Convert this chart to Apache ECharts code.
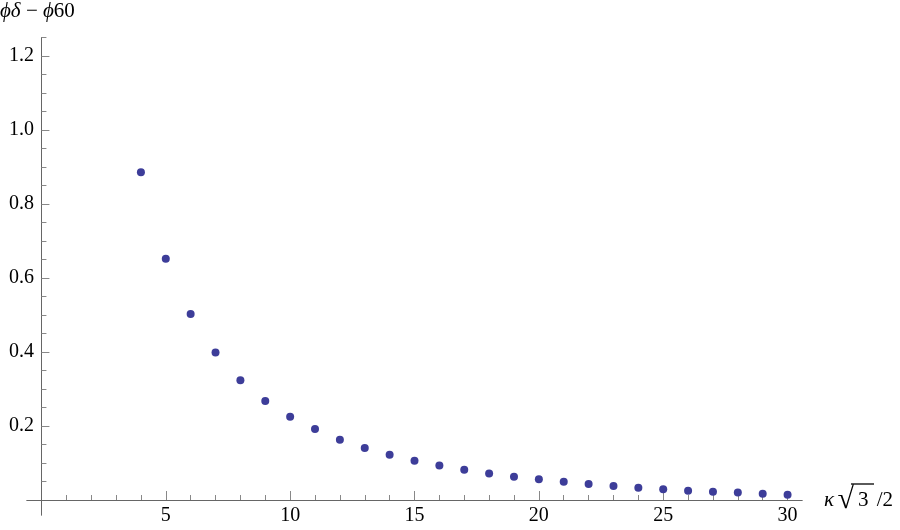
<!DOCTYPE html>
<html>
<head>
<meta charset="utf-8">
<script src="https://cdn.jsdelivr.net/npm/echarts@6/dist/echarts.min.js"></script>
<style>
  html, body { margin: 0; padding: 0; background: #fff; }
  #main { width: 900px; height: 530px; }
</style>
</head>
<body>
<div id="main"></div>
<script>
// kappa * sqrt(3) / 2
const kappa = [4, 5, 6, 7, 8, 9, 10, 11, 12, 13, 14, 15, 16, 17, 18, 19, 20, 21, 22, 23, 24, 25, 26, 27, 28, 29, 30]
// phi_delta - phi_60
const diff = [0.886, 0.652, 0.503, 0.399, 0.324, 0.268, 0.225, 0.192, 0.163, 0.1405, 0.1225, 0.106, 0.093, 0.082, 0.072, 0.063, 0.056, 0.0495, 0.043, 0.038, 0.033, 0.029, 0.025, 0.0225, 0.020, 0.017, 0.0144]
const xMajor = [5, 10, 15, 20, 25, 30]
const xMinor = [1, 2, 3, 4, 6, 7, 8, 9, 11, 12, 13, 14, 16, 17, 18, 19, 21, 22, 23, 24, 26, 27, 28, 29]
const yMajor = [0.2, 0.4, 0.6, 0.8, 1.0, 1.2]
const yMinor = [0.05, 0.1, 0.15, 0.25, 0.3, 0.35, 0.45, 0.5, 0.55, 0.65, 0.7, 0.75, 0.85, 0.9, 0.95, 1.05, 1.1, 1.15, 1.25]

const chart = echarts.init(document.getElementById('main'))
const serif = 'Liberation Serif'
const axisCol = '#666'
const tickCol = '#888'

const xBase = {
  type: 'value',
  min: -0.58,
  max: 30.58,
  position: 'bottom',
  splitLine: { show: false },
  axisLine: { show: true, onZero: true, lineStyle: { color: axisCol, width: 1 } },
}
const yBase = {
  type: 'value',
  min: -0.0405,
  max: 1.25,
  position: 'left',
  splitLine: { show: false },
  axisLine: { show: true, onZero: true, lineStyle: { color: axisCol, width: 1 } },
}

const option = {
  animation: false,
  grid: { left: 27, right: 98, top: 37.7, bottom: 15, containLabel: false, outerBoundsMode: 'none' },
  xAxis: [
    Object.assign({}, xBase, {
      name: '{k|κ} {r|√}{t|3} {n|/2}',
      nameLocation: 'end',
      nameGap: 22,
      nameTextStyle: {
        rich: {
          k: { fontFamily: serif, fontStyle: 'italic', fontSize: 21, color: '#000' },
          r: { fontFamily: serif, fontSize: 30, color: '#000' },
          t: { fontFamily: serif, fontSize: 21, color: '#000', padding: [0, 5, 0, 4] },
          n: { fontFamily: serif, fontSize: 21, color: '#000' },
        },
      },
      axisTick: { show: true, inside: true, length: 9, customValues: xMajor, lineStyle: { color: tickCol } },
      // labels are placed from the grid edge, so pull them back up to the zero line
      axisLabel: { show: true, customValues: xMajor, margin: -9, fontFamily: serif, fontSize: 20, color: '#000' },
    }),
    Object.assign({}, xBase, {
      axisTick: { show: true, inside: true, length: 5, customValues: xMinor, lineStyle: { color: tickCol } },
      axisLabel: { show: false },
    }),
  ],
  yAxis: [
    Object.assign({}, yBase, {
      axisTick: { show: true, inside: true, length: 8, customValues: yMajor, lineStyle: { color: tickCol } },
      axisLabel: {
        show: true, customValues: yMajor, margin: -7, fontFamily: serif, fontSize: 20, color: '#000',
        formatter: (v) => v.toFixed(1),
      },
    }),
    Object.assign({}, yBase, {
      axisTick: { show: true, inside: true, length: 5, customValues: yMinor, lineStyle: { color: tickCol } },
      axisLabel: { show: false },
    }),
  ],
  graphic: [
    {
      type: 'text',
      left: 0,
      top: 1,
      style: {
        text: '{i|ϕδ}{n| − }{i|ϕ}{n|60}',
        rich: {
          i: { fontFamily: serif, fontStyle: 'italic', fontSize: 21, fill: '#000' },
          n: { fontFamily: serif, fontSize: 21, fill: '#000' },
        },
      },
    },
    {
      // vinculum of the square root in the axis name
      type: 'line',
      shape: { x1: 851, y1: 484, x2: 874, y2: 484 },
      style: { stroke: '#000', lineWidth: 1.3 },
    },
  ],
  series: [
    {
      type: 'scatter',
      xAxisIndex: 0,
      yAxisIndex: 0,
      symbol: 'circle',
      symbolSize: 8,
      itemStyle: { color: '#3d3d99', opacity: 1 },
      data: kappa.map((k, i) => [k, diff[i]]),
    },
  ],
}
chart.setOption(option)
</script>
</body>
</html>
